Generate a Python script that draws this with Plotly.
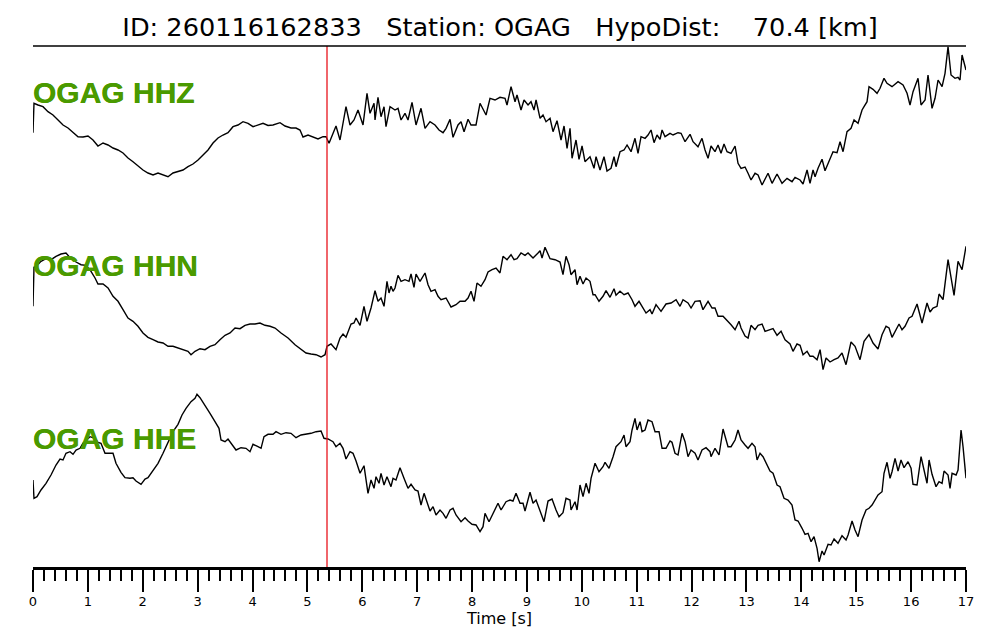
import plotly.graph_objects as go

# ---------------- data ----------------
# time [s] and trace level (display units, larger = lower on screen)
hhz_t = [0.000, 0.018, 0.091, 0.182, 0.273, 0.364, 0.456, 0.547, 0.638, 0.729, 0.820, 0.911, 1.002, 1.093, 1.184,
         1.276, 1.367, 1.458, 1.549, 1.640, 1.731, 1.822, 1.913, 2.004, 2.095, 2.187, 2.278, 2.369, 2.460, 2.551,
         2.642, 2.733, 2.824, 2.915, 3.007, 3.098, 3.189, 3.280, 3.371, 3.462, 3.553, 3.644, 3.735, 3.827, 3.918,
         4.009, 4.100, 4.191, 4.282, 4.373, 4.501, 4.592, 4.701, 4.792, 4.865, 4.920, 5.011, 5.102, 5.193, 5.284,
         5.339, 5.394, 5.466, 5.521, 5.594, 5.649, 5.703, 5.776, 5.849, 5.922, 6.013, 6.086, 6.141, 6.214, 6.232,
         6.286, 6.341, 6.396, 6.432, 6.505, 6.596, 6.651, 6.706, 6.778, 6.833, 6.906, 6.979, 7.070, 7.143, 7.234,
         7.325, 7.398, 7.471, 7.526, 7.599, 7.653, 7.744, 7.799, 7.854, 7.927, 7.981, 8.072, 8.145, 8.255, 8.327,
         8.418, 8.509, 8.601, 8.637, 8.710, 8.783, 8.819, 8.892, 8.947, 9.020, 9.074, 9.129, 9.166, 9.239, 9.293,
         9.348, 9.421, 9.475, 9.548, 9.621, 9.676, 9.731, 9.785, 9.822, 9.894, 9.949, 10.004, 10.058, 10.149,
         10.222, 10.259, 10.332, 10.404, 10.459, 10.532, 10.587, 10.623, 10.696, 10.769, 10.824, 10.897, 10.969,
         11.024, 11.079, 11.152, 11.206, 11.261, 11.316, 11.370, 11.425, 11.462, 11.516, 11.607, 11.662, 11.753,
         11.808, 11.881, 11.972, 12.026, 12.117, 12.190, 12.245, 12.300, 12.354, 12.427, 12.482, 12.536, 12.591,
         12.646, 12.719, 12.792, 12.846, 12.901, 12.974, 13.029, 13.083, 13.156, 13.211, 13.284, 13.338, 13.393,
         13.466, 13.557, 13.648, 13.739, 13.830, 13.885, 13.976, 14.031, 14.104, 14.158, 14.213, 14.250, 14.304,
         14.377, 14.431, 14.504, 14.577, 14.650, 14.705, 14.760, 14.832, 14.905, 14.960, 15.033, 15.106, 15.142,
         15.197, 15.233, 15.306, 15.379, 15.434, 15.506, 15.561, 15.652, 15.762, 15.853, 15.926, 15.980, 16.035,
         16.126, 16.181, 16.254, 16.308, 16.381, 16.436, 16.491, 16.564, 16.618, 16.673, 16.727, 16.800, 16.855,
         16.891, 16.928, 17.000]
hhz_v = [132.7, 103.3, 105, 106.7, 111.7, 115, 120, 125, 128, 132.7, 136.7, 137, 136, 140, 146,
         143, 145, 148, 150, 153, 158, 161.7, 166, 170, 173, 175, 173, 175, 176.7, 173,
         171.7, 170, 166.7, 164, 160, 155, 150, 143, 138, 135, 132.7, 126.7, 125, 121.7, 123.3,
         126.7, 125, 123.3, 125.5, 125, 122.7, 126, 128, 128, 130, 137, 135, 136.7, 139, 136.7,
         136.7, 143.3, 133.3, 126, 140, 123.3, 106.7, 125, 120, 110, 125, 93.3, 113.3, 103.3, 120,
         97.3, 116.7, 106.7, 126.7, 106.7, 110, 108.3, 120, 113.3, 120, 102.3, 125, 108.3, 128.3, 121.7,
         125, 130, 132.7, 128.3, 119.3, 137.3, 125, 121.7, 131.7, 119.3, 125, 125, 103.3, 115, 98.3,
         100, 97.3, 98.3, 105, 86.7, 101.7, 95, 110, 100, 105, 101.7, 110, 100, 118.3, 115,
         121.7, 118.3, 131.7, 120.7, 140, 126, 148.3, 128.3, 158.3, 140, 159.3, 146, 161.7, 156.7,
         168.3, 156.7, 170, 156.7, 171, 168.3, 156.7, 166.7, 151.7, 150, 145, 151.7, 138.3,
         153.3, 136.7, 138.3, 135, 130, 142.7, 135, 139.3, 130, 136.7, 133.3, 135, 132.7,
         133.3, 141.7, 134.3, 141.7, 146.7, 138.3, 150, 158.3, 146, 151.7, 145, 153.3, 144,
         151.7, 153.3, 146, 163.3, 168.3, 167, 173.3, 180, 173.3, 175, 185, 178.3, 173.3,
         183.3, 174, 183.3, 178.3, 181.7, 177.3, 180, 184, 170, 183.3, 170, 176.7, 168.3,
         159.3, 170.7, 161.7, 151.7, 152.7, 141.7, 151.7, 131.7, 128.3, 120, 123.3, 110, 106.7,
         101.7, 86.7, 89.3, 93.3, 88.3, 78.3, 83.3, 86.7, 81.7, 85, 93.3, 105, 91.7,
         78.3, 105, 100, 75, 108.3, 98.3, 80, 86.7, 73.3, 46.7, 75, 78.3, 77.3,
         80, 55, 70]

hhn_t = [0.000, 0.018, 0.055, 0.146, 0.237, 0.328, 0.419, 0.510, 0.601, 0.692, 0.784, 0.875, 0.966, 1.057, 1.130,
         1.184, 1.276, 1.367, 1.458, 1.549, 1.640, 1.731, 1.822, 1.913, 2.004, 2.095, 2.187, 2.278, 2.369, 2.460,
         2.551, 2.642, 2.733, 2.824, 2.879, 2.952, 3.043, 3.134, 3.225, 3.316, 3.407, 3.499, 3.590, 3.681, 3.772,
         3.863, 3.954, 4.045, 4.136, 4.227, 4.319, 4.410, 4.519, 4.647, 4.774, 4.883, 4.975, 5.066, 5.157, 5.248,
         5.321, 5.357, 5.430, 5.521, 5.594, 5.649, 5.703, 5.795, 5.849, 5.886, 5.959, 6.031, 6.086, 6.159, 6.232,
         6.286, 6.341, 6.396, 6.450, 6.487, 6.523, 6.560, 6.596, 6.651, 6.706, 6.778, 6.851, 6.888, 6.942, 6.979,
         7.052, 7.143, 7.198, 7.252, 7.325, 7.380, 7.434, 7.526, 7.617, 7.708, 7.781, 7.872, 7.927, 7.981, 8.036,
         8.090, 8.163, 8.236, 8.291, 8.364, 8.437, 8.509, 8.564, 8.637, 8.710, 8.765, 8.819, 8.892, 8.965, 9.020,
         9.111, 9.202, 9.239, 9.275, 9.329, 9.421, 9.512, 9.603, 9.657, 9.712, 9.767, 9.803, 9.876, 9.913, 9.967,
         10.022, 10.077, 10.149, 10.204, 10.241, 10.313, 10.386, 10.441, 10.514, 10.587, 10.623, 10.696, 10.769,
         10.842, 10.915, 10.969, 11.042, 11.115, 11.170, 11.243, 11.279, 11.352, 11.443, 11.534, 11.626, 11.717,
         11.789, 11.844, 11.935, 11.990, 12.063, 12.154, 12.208, 12.300, 12.373, 12.427, 12.482, 12.573, 12.664,
         12.719, 12.792, 12.864, 12.901, 12.974, 13.029, 13.083, 13.156, 13.211, 13.284, 13.338, 13.429, 13.484,
         13.557, 13.630, 13.703, 13.794, 13.848, 13.921, 13.976, 14.031, 14.104, 14.158, 14.213, 14.286, 14.341,
         14.395, 14.450, 14.523, 14.596, 14.668, 14.741, 14.814, 14.905, 14.978, 15.069, 15.142, 15.233, 15.306,
         15.397, 15.470, 15.543, 15.598, 15.652, 15.743, 15.780, 15.834, 15.889, 15.962, 16.017, 16.108, 16.199,
         16.290, 16.345, 16.399, 16.472, 16.509, 16.582, 16.673, 16.782, 16.855, 16.928, 17.000]
hhn_v = [306.3, 267.3, 266.3, 261.3, 258.7, 259.7, 256.3, 254, 253, 258.7, 262, 264.7, 265.3, 271.3, 278,
         284, 284, 288, 296.3, 301.3, 309.7, 318, 321.3, 326.3, 333, 337.3, 339.7, 342, 343, 346.3,
         346.3, 348, 349.7, 351.3, 354.7, 351.3, 348.7, 349.7, 346.3, 344.7, 339.7, 335.3, 333, 328, 328.7,
         325.3, 324, 324, 323, 325.3, 326.3, 328, 333, 338, 344.7, 349.7, 353, 354, 354.7, 357,
         354.7, 346.3, 344, 349.7, 338, 334, 337.3, 324, 323, 318, 325.3, 306.3, 321.3, 308, 290.7,
         301.3, 298, 306.3, 281.3, 293, 286.3, 291.3, 288, 275.3, 281.3, 279.7, 281.3, 274, 287.3, 274,
         281.3, 273, 284.7, 291.3, 289.7, 296.3, 299.7, 298, 307, 304.7, 301.3, 301.3, 298, 291.3, 301.3,
         283, 286.3, 279.7, 272, 269.7, 268, 273, 256.3, 259.7, 254.7, 259.7, 258.7, 253, 255.3, 253,
         258, 253, 250.7, 258, 247.3, 258.7, 259.7, 262, 274.7, 256.3, 264.7, 274.7, 269.7, 284.7, 276.3,
         284, 278, 281.3, 294.7, 294.7, 301.3, 296.3, 290.7, 297.3, 288.7, 295.3, 291.3, 294.7,
         293, 299.7, 306.3, 301.3, 308, 313, 309.7, 314, 304.7, 311.3, 304, 303, 299.7,
         306.3, 299.7, 303, 308, 301.3, 300.7, 309.7, 301.3, 308, 308, 316.3, 316.3, 321.3,
         324.7, 329.7, 321.3, 328, 336, 338, 325.3, 329.7, 325.3, 324, 331.3, 329.7, 328.7,
         335.3, 331.3, 339.7, 344, 351.3, 344, 345.3, 354.7, 351.3, 356.3, 356.3, 359.7, 349.7,
         369.7, 358, 362, 359.7, 358, 353, 364.7, 342, 346.3, 359.7, 341.3, 334.7, 343,
         349, 334.7, 326.3, 328, 337.3, 328, 324, 329.7, 326.3, 318, 316.3, 304, 323,
         303, 312, 308, 306.3, 294, 299.7, 259.7, 295.3, 261.3, 269.7, 246.3]

hhe_t = [0.000, 0.018, 0.073, 0.146, 0.237, 0.328, 0.419, 0.492, 0.547, 0.601, 0.674, 0.729, 0.784, 0.856, 0.911,
         0.966, 1.039, 1.130, 1.184, 1.239, 1.312, 1.403, 1.458, 1.512, 1.603, 1.676, 1.767, 1.822, 1.877, 1.968,
         2.041, 2.095, 2.187, 2.278, 2.369, 2.460, 2.551, 2.642, 2.715, 2.788, 2.879, 2.952, 2.988, 3.043, 3.134,
         3.225, 3.316, 3.389, 3.426, 3.499, 3.553, 3.608, 3.699, 3.790, 3.881, 3.954, 4.009, 4.100, 4.155, 4.209,
         4.282, 4.373, 4.428, 4.519, 4.610, 4.701, 4.792, 4.883, 4.975, 5.066, 5.157, 5.248, 5.302, 5.375, 5.466,
         5.521, 5.594, 5.649, 5.703, 5.776, 5.831, 5.886, 5.959, 6.031, 6.104, 6.159, 6.214, 6.250, 6.305, 6.341,
         6.396, 6.450, 6.523, 6.560, 6.614, 6.687, 6.760, 6.833, 6.888, 6.961, 7.015, 7.070, 7.125, 7.179, 7.234,
         7.289, 7.343, 7.416, 7.471, 7.526, 7.599, 7.653, 7.708, 7.799, 7.872, 7.927, 7.999, 8.072, 8.145, 8.200,
         8.236, 8.309, 8.382, 8.473, 8.528, 8.619, 8.692, 8.746, 8.801, 8.874, 8.929, 8.965, 9.056, 9.111, 9.166,
         9.239, 9.311, 9.384, 9.457, 9.530, 9.585, 9.657, 9.712, 9.785, 9.803, 9.876, 9.913, 9.967, 10.022,
         10.077, 10.131, 10.168, 10.241, 10.313, 10.386, 10.423, 10.496, 10.569, 10.623, 10.714, 10.769, 10.805,
         10.878, 10.915, 10.969, 11.006, 11.061, 11.097, 11.152, 11.206, 11.279, 11.334, 11.407, 11.462, 11.534,
         11.607, 11.643, 11.698, 11.753, 11.826, 11.881, 11.935, 11.990, 12.063, 12.117, 12.190, 12.263, 12.336,
         12.354, 12.427, 12.500, 12.573, 12.664, 12.719, 12.792, 12.846, 12.901, 12.974, 13.029, 13.101, 13.156,
         13.193, 13.247, 13.302, 13.375, 13.429, 13.484, 13.557, 13.611, 13.684, 13.757, 13.830, 13.885, 13.940,
         14.013, 14.067, 14.122, 14.177, 14.231, 14.286, 14.323, 14.377, 14.414, 14.487, 14.541, 14.596, 14.668,
         14.741, 14.814, 14.851, 14.924, 14.978, 15.033, 15.106, 15.179, 15.233, 15.288, 15.342, 15.397, 15.470,
         15.506, 15.561, 15.616, 15.652, 15.707, 15.762, 15.816, 15.871, 15.944, 15.999, 16.035, 16.108, 16.181,
         16.235, 16.290, 16.327, 16.381, 16.454, 16.509, 16.564, 16.600, 16.673, 16.709, 16.746, 16.819, 16.855,
         16.910, 16.946, 17.000]
hhe_v = [480, 498.3, 496.7, 490, 483.3, 475, 465, 459, 460, 453.3, 451.7, 454.3, 450, 448.3, 443.3,
         440, 436.7, 438.3, 442.3, 443.3, 453.3, 453.3, 453.3, 463.3, 472.3, 477.7, 478.3, 477.7, 481, 484.3,
         479, 477.7, 470, 463.3, 453.3, 441.7, 431.7, 424.3, 415, 408.3, 401.7, 398.3, 394.3, 397.7, 405,
         413.3, 421.7, 428.3, 440, 441.7, 439, 443.3, 450, 447.7, 448.3, 451.7, 444.3, 446.7, 448.3, 436.7,
         434.3, 434.3, 431.7, 434.3, 432.7, 433.3, 437.7, 435, 434.3, 433.3, 431.7, 431, 438.3, 439, 441.7,
         446.7, 443.3, 448.3, 459, 451.7, 453.3, 461, 473.3, 465.7, 493.3, 480, 488.3, 476.7, 483.3, 473.3,
         485, 476.7, 486.7, 478.3, 480, 467.7, 478.3, 488.3, 484.3, 490, 491, 505, 493.3, 501.7, 511,
         506.7, 515, 510, 513.3, 518.3, 510, 508.3, 515, 521.7, 517.7, 521, 524.3, 525, 531.7, 526.7,
         513.3, 521.7, 513.3, 503.3, 510, 501.7, 500, 501, 493.3, 503.3, 503.3, 511, 492.3, 503.3, 500,
         510, 521.7, 501, 499, 510, 516.7, 512.7, 498.3, 500, 510, 501.7, 510, 485, 496.7,
         483.3, 493.3, 478.3, 463.3, 471.7, 466.7, 462.3, 468.3, 456.7, 446.7, 441.7, 435, 446.7,
         441.7, 430, 418.3, 430, 421.7, 431.7, 430, 420, 421.7, 431.7, 431.7, 448.3, 448.3,
         441, 442.3, 453.3, 455, 433.3, 441.7, 456.7, 450, 453.3, 460, 450, 447.7, 451.7,
         456.7, 448.3, 455, 429, 446.7, 446.7, 440, 430, 440, 445, 448.3, 443.3, 446.7,
         460, 453.3, 456.7, 465, 471, 473.3, 485, 486.7, 498.3, 500, 505, 520, 521,
         528.3, 534.3, 533.3, 541.7, 536.7, 548.3, 561.7, 551, 555, 544.3, 545, 539, 543.3,
         535.7, 540, 535, 521, 530, 536.7, 520, 510, 508.3, 505, 500, 495, 491.7,
         473.3, 462.3, 478.3, 471.7, 458.3, 471, 460, 467.7, 461.7, 468.3, 484.3, 485, 456.7,
         470, 483.3, 460, 474.3, 486.7, 481.7, 483.3, 471, 475, 488.3, 473.3, 475, 470,
         430, 446.7, 478.3]

channels = ["OGAG HHZ", "OGAG HHN", "OGAG HHE"]
label_levels = [92, 265, 438]
pick_time = 5.357
x_ticks = list(range(0, 18))
title_text = "ID: 260116162833   Station: OGAG   HypoDist:    70.4 [km]"

# ---------------- figure ----------------
fig = go.Figure()
for t, v in [(hhz_t, hhz_v), (hhn_t, hhn_v), (hhe_t, hhe_v)]:
    fig.add_trace(go.Scatter(x=t, y=v, mode="lines",
                             line=dict(color="black", width=1.4),
                             showlegend=False, hoverinfo="skip"))

# P pick line
fig.add_shape(type="line", xref="x", yref="paper", x0=pick_time, x1=pick_time, y0=0, y1=1,
              line=dict(color="#e8141c", width=1.3))
# top frame line
fig.add_shape(type="line", xref="paper", yref="paper", x0=0, x1=1, y0=1, y1=1,
              line=dict(color="black", width=1.5))

for name, lev in zip(channels, label_levels):
    fig.add_annotation(x=0, xref="paper", y=lev, yref="y", text="<b>" + name + "</b>",
                       showarrow=False, xanchor="left", yanchor="middle", xshift=-2,
                       font=dict(family="Liberation Sans, Arial", size=30, color="#4a9a00"))

# the page body adds an 8 px offset, so the figure is 992 x 632
W, H = 992, 632
fig.update_layout(
    width=W, height=H,
    margin=dict(l=25, r=34, t=38, b=73),
    paper_bgcolor="white", plot_bgcolor="white",
    title=dict(text=title_text.replace(" ", "\u00a0"), x=(500 - 8) / W, xanchor="center",
               y=1 - 19 / H, yanchor="middle", yref="container",
               font=dict(family="DejaVu Sans", size=25.6, color="black")),
    xaxis=dict(range=[0, 17], tickmode="array", tickvals=x_ticks,
               ticks="outside", ticklen=22, tickwidth=2, tickcolor="black",
               minor=dict(dtick=0.2, ticks="outside", ticklen=11, tickwidth=2, tickcolor="black"),
               showline=True, linecolor="black", linewidth=3, showgrid=False, zeroline=False,
               tickfont=dict(family="DejaVu Sans", size=13, color="black"),
               title=dict(text="Time [s]", standoff=0,
                          font=dict(family="DejaVu Sans", size=16, color="black"))),
    yaxis=dict(range=[567, 46], visible=False, showgrid=False, zeroline=False),
    annotations=[],
)
for name, lev in zip(channels, label_levels):
    fig.add_annotation(x=0, xref="paper", y=lev, yref="y", text="<b>" + name + "</b>",
                       showarrow=False, xanchor="left", yanchor="middle", xshift=-2,
                       font=dict(family="Liberation Sans, Arial", size=30, color="#4a9a00"))
fig.update_xaxes(ticklabelstandoff=-2)

fig.write_html("out.html")
